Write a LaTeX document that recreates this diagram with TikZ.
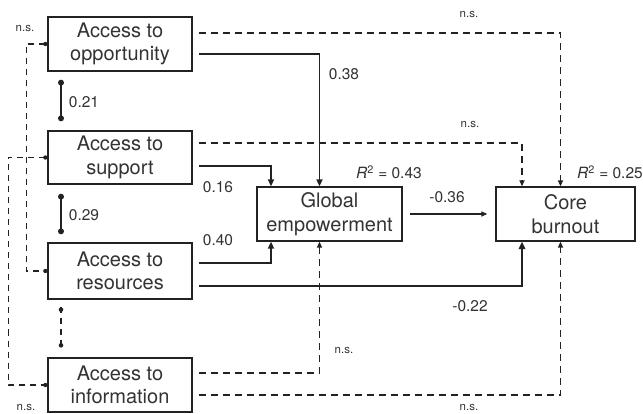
\documentclass[tikz,border=0pt]{standalone}
\usepackage{fontspec}
\setmainfont{TeX Gyre Heros}
\usetikzlibrary{arrows.meta}
\definecolor{ink}{HTML}{222222}
\definecolor{txt}{HTML}{333333}
\tikzset{
  box/.style={draw=ink, line width=1.3pt, inner sep=0pt, align=center, text=txt,
    font=\fontsize{20}{23.5}\selectfont},
  num/.style={text=txt, inner sep=0pt, font=\fontsize{15.5}{18}\selectfont},
  ns/.style={text=txt, inner sep=0pt, font=\fontsize{11.5}{13}\selectfont},
  path/.style={draw=ink, line width=1.8pt, -{Triangle[length=7pt,width=6pt]}},
  thickpath/.style={draw=ink, line width=2.5pt, -{Triangle[length=7.5pt,width=6.5pt]}},
  dpath/.style={draw=ink, line width=1.5pt, dash pattern=on 7pt off 5pt, -{Triangle[length=6pt,width=5pt]}},
  cov/.style={draw=ink, line width=1.8pt},
  dcov/.style={draw=ink, line width=1.5pt, dash pattern=on 6pt off 5pt},
  dot/.style={fill=ink},
}
\begin{document}
\begin{tikzpicture}[x=1pt,y=-1pt]
\useasboundingbox (0,0) rectangle (643,414);
% boxes
\node[box, minimum width=144pt, minimum height=54pt] (opp) at (120,44) {Access to\\opportunity};
\node[box, minimum width=144pt, minimum height=53pt] (sup) at (120,157.5) {Access to\\support};
\node[box, minimum width=144pt, minimum height=56pt] (res) at (120,271) {Access to\\resources};
\node[box, minimum width=144pt, minimum height=54pt] (inf) at (120,385) {Access to\\information};
\node[box, minimum width=145pt, minimum height=54pt] (glob) at (329.5,214) {Global\\empowerment};
\node[box, minimum width=139pt, minimum height=54pt] (core) at (565.5,214) {Core\\burnout};

% paths to global empowerment
\draw[path] ([shift={(6,10)}]opp.east) -| ([xshift=-10]glob.north);
\draw[path] ([shift={(6,8.5)}]sup.east) -| ([xshift=-58.5]glob.north);
\draw[path] ([shift={(6,-8)}]res.east) -| ([xshift=-58.5]glob.south);
\draw[dpath] ([shift={(6,-12)}]inf.east) -| ([xshift=-10]glob.south);

% paths to core burnout
\draw[dpath] ([shift={(6,-11)}]opp.east) -| ([xshift=-5]core.north);
\draw[dpath] ([shift={(6,-14.5)}]sup.east) -| ([xshift=-43.5]core.north);
\draw[thickpath] ([shift={(6,15)}]res.east) -| ([xshift=-43.5]core.south);
\draw[dpath] ([shift={(6,10)}]inf.east) -| ([xshift=-5]core.south);
\draw[draw=ink, line width=1.2pt, -{Triangle[length=6pt,width=5pt]}] ([xshift=7]glob.east) -- ([xshift=-8]core.west);

% covariances
\coordinate (c1a) at ([shift={(-59,11)}]opp.south);
\coordinate (c1b) at ([shift={(-59,-12)}]sup.north);
\coordinate (c2a) at ([shift={(-59,12)}]sup.south);
\coordinate (c2b) at ([shift={(-59,-11)}]res.north);
\coordinate (c3a) at ([shift={(-59,10)}]res.south);
\coordinate (c3b) at ([shift={(-59,-12)}]inf.north);
\draw[cov] (c1a) -- (c1b);
\draw[cov] (c2a) -- (c2b);
\draw[dcov] ([yshift=3]c3a) -- ([yshift=-3]c3b);
\fill[dot] (c1a) circle (3pt) (c1b) circle (3pt) (c2a) circle (3pt) (c2b) circle (3pt);
\fill[dot] (c3a) circle (2.3pt) (c3b) circle (2.3pt);

\coordinate (w1) at ([xshift=-2]opp.west);
\coordinate (w2) at ([xshift=-2]sup.west);
\coordinate (w3) at ([xshift=-2]res.west);
\coordinate (w4) at ([xshift=-2]inf.west);
\draw[dcov] (w1) -- ++(-19,0) |- (w3);
\draw[dcov] (w2) -- ++(-37,0) |- (w4);
\fill[dot] (w1) circle (2.2pt) (w2) circle (2.2pt) (w3) circle (2.2pt) (w4) circle (2.2pt);

% labels
\node[ns] (l1) at (25,28) {n.s.};
\node[ns] (l2) at (26,407) {n.s.};
\node[num] (l3) at (84,102) {0.21};
\node[num] (l4) at (84,215) {0.29};
\node[num] (l5) at (218,187) {0.16};
\node[num] (l6) at (218,240) {0.40};
\node[num] (l7) at (344,74) {0.38};
\node[ns] (l8) at (469,14) {n.s.};
\node[ns] (l9) at (470,124) {n.s.};
\node[num] (l10) at (389,172) {\textit{R}\textsuperscript{2} = 0.43};
\node[num] (l11) at (447,197) {-0.36};
\node[num] (l12) at (610,172) {\textit{R}\textsuperscript{2} = 0.25};
\node[num] (l13) at (470,306) {-0.22};
\node[ns] (l14) at (344,350) {n.s.};
\node[ns] (l15) at (469,407) {n.s.};
\end{tikzpicture}
\end{document}
